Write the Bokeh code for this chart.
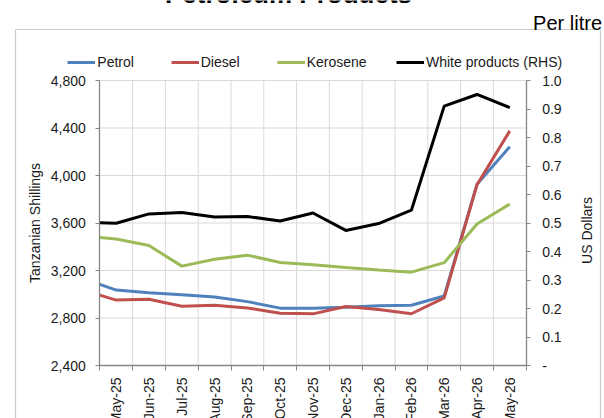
import math
from bokeh.plotting import figure
from bokeh.models import (Range1d, LinearAxis, FixedTicker, CustomJSTickFormatter,
                          Legend, LegendItem, Label, BoxAnnotation)
from bokeh.embed import file_html
from bokeh.resources import INLINE

# ---- data ----
months = ["May-25", "Jun-25", "Jul-25", "Aug-25", "Sep-25", "Oct-25", "Nov-25",
          "Dec-25", "Jan-26", "Feb-26", "Mar-26", "Apr-26", "May-26"]
# first value is the opening point at the left edge of the axis, then one per month
petrol = [3083, 3035, 3013, 2995, 2976, 2938, 2883, 2883, 2890, 2903, 2907, 2985, 3927, 4243]
diesel = [2993, 2951, 2958, 2899, 2908, 2885, 2840, 2835, 2897, 2871, 2836, 2970, 3922, 4376]
kerosene = [3478, 3466, 3410, 3237, 3295, 3329, 3268, 3249, 3225, 3205, 3186, 3266, 3592, 3760]
white_rhs = [0.501, 0.499, 0.532, 0.537, 0.521, 0.523, 0.507, 0.535, 0.474, 0.498, 0.545,
             0.910, 0.951, 0.905]
left_ticks = [2400, 2800, 3200, 3600, 4000, 4400, 4800]
right_ticks = [0.0, 0.1, 0.2, 0.3, 0.4, 0.5, 0.6, 0.7, 0.8, 0.9, 1.0]

n = len(months)
x_pos = [0.0] + [i + 0.5 for i in range(n)]
LMIN, LMAX = left_ticks[0], left_ticks[-1]
RMIN, RMAX = right_ticks[0], right_ticks[-1]

FONT = "Liberation Sans"
AXIS_C = "#868686"
TEXT_C = "#1a1a1a"
GRID_C = "#d9d9d9"
BOX_C = "#595959"

# ---- layout (pixels) ----
W, H = 604, 418
PX_L, PX_R, PX_T, PX_B = 99.3, 525.7, 80.0, 365.0   # plot area edges on the canvas
ux = n / (PX_R - PX_L)
uy = (LMAX - LMIN) / (PX_B - PX_T)
x_start, x_end = 0 - PX_L * ux, n + (W - PX_R) * ux
y_bot, y_top = LMIN - (H - PX_B) * uy, LMAX + PX_T * uy
r_scale = (RMAX - RMIN) / (LMAX - LMIN)

p = figure(width=W, height=H, output_backend="svg", toolbar_location=None,
           x_range=Range1d(x_start, x_end), y_range=Range1d(y_bot, y_top), min_border=0)
p.outline_line_color = None
p.background_fill_color = "white"
p.border_fill_color = "white"
p.extra_y_ranges = {"rhs": Range1d(RMIN + (y_bot - LMIN) * r_scale, RMIN + (y_top - LMIN) * r_scale)}
p.grid.visible = False

# outer chart box
p.add_layout(BoxAnnotation(left=15, right=600, top=H - 29, bottom=-20,
                           left_units="screen", right_units="screen", top_units="screen",
                           bottom_units="screen", fill_color=None, fill_alpha=0,
                           line_color=BOX_C, line_width=1.2, level="underlay"))

# gridlines (month boundaries and left-axis levels), limited to the plot area
vx = list(range(1, n))
p.segment(x0=vx, x1=vx, y0=[LMIN] * len(vx), y1=[LMAX] * len(vx),
          line_color=GRID_C, line_width=1)
hy = left_ticks[1:]
p.segment(x0=[0] * len(hy), x1=[n] * len(hy), y0=hy, y1=hy, line_color=GRID_C, line_width=1)

# x axis: labels centred in each month, tick marks on the boundaries
xa = p.xaxis[0]
xa.fixed_location = LMIN
xa.bounds = (0, n)
xa.ticker = FixedTicker(ticks=[i + 0.5 for i in range(n)], minor_ticks=list(range(n + 1)))
xa.formatter = CustomJSTickFormatter(args=dict(labels=months),
                                     code="const i = Math.floor(tick); return labels[i] || '';")
xa.major_tick_out = 0
xa.major_tick_in = 0
xa.minor_tick_out = 5
xa.minor_tick_in = 0
xa.minor_tick_line_color = AXIS_C
xa.major_label_orientation = math.pi / 2
xa.major_label_standoff = 7

# left axis
ya = p.yaxis[0]
ya.fixed_location = 0
ya.bounds = (LMIN, LMAX)
ya.ticker = FixedTicker(ticks=left_ticks)
ya.formatter = CustomJSTickFormatter(code="return tick.toLocaleString('en-US');")
ya.axis_label = "Tanzanian Shillings"
ya.major_tick_out = 4
ya.major_tick_in = 0
ya.minor_tick_out = 0
ya.minor_tick_in = 0
ya.major_label_standoff = 10
ya.axis_label_standoff = 4

# right axis
ra = LinearAxis(y_range_name="rhs", ticker=FixedTicker(ticks=right_ticks),
                formatter=CustomJSTickFormatter(code="return tick < 0.001 ? '-' : tick.toFixed(1);"),
                fixed_location=n, bounds=(RMIN, RMAX))
ra.major_tick_out = 4
ra.major_tick_in = 0
ra.minor_tick_out = 0
ra.minor_tick_in = 0
ra.major_label_standoff = 12
p.add_layout(ra, "right")

for ax in (xa, ya, ra):
    ax.axis_line_color = AXIS_C
    ax.axis_line_width = 1.3
    ax.major_tick_line_color = AXIS_C
    ax.major_label_text_font = FONT
    ax.major_label_text_font_size = "14px"
    ax.major_label_text_color = TEXT_C
    ax.axis_label_text_font = FONT
    ax.axis_label_text_font_size = "14px"
    ax.axis_label_text_font_style = "normal"
    ax.axis_label_text_color = TEXT_C

# right-axis title, reading bottom to top as in the original
p.add_layout(Label(x=586, y=H - 230, x_units="screen", y_units="screen", angle=math.pi / 2,
                   text="US Dollars", text_align="center", text_baseline="middle",
                   text_font=FONT, text_font_size="14px", text_color=TEXT_C))

# lines
r_pet = p.line(x_pos, petrol, line_color="#4F81BD", line_width=3)
r_die = p.line(x_pos, diesel, line_color="#C0504D", line_width=3)
r_ker = p.line(x_pos, kerosene, line_color="#9BBB59", line_width=3)
r_wht = p.line(x_pos, white_rhs, line_color="#000000", line_width=3, y_range_name="rhs")

# legend entries (one per entry to match the original spacing)
LEG_TOP = 54.3
for label, rend, gx in (("Petrol", r_pet, 67.3), ("Diesel", r_die, 170.7),
                        ("Kerosene", r_ker, 276.7), ("White products (RHS)", r_wht, 396.0)):
    lg = Legend(items=[LegendItem(label=label, renderers=[rend])],
                location=(gx, H - LEG_TOP - 16), orientation="horizontal",
                glyph_width=28, glyph_height=16, label_height=16, label_standoff=2,
                padding=0, margin=0, spacing=0,
                border_line_color=None, background_fill_alpha=0,
                label_text_font=FONT, label_text_font_size="14px", label_text_color=TEXT_C)
    p.add_layout(lg, "center")

p.add_layout(Label(x=601.5, y=H - 22.1, x_units="screen", y_units="screen",
                   text="Per litre", text_align="right", text_baseline="alphabetic",
                   text_font=FONT, text_font_size="20px", text_color="#000000"))
p.add_layout(Label(x=288, y=H + 6.5, x_units="screen", y_units="screen",
                   text="Petroleum Products", text_align="center", text_baseline="alphabetic",
                   text_font=FONT, text_font_size="26px", text_font_style="bold",
                   text_color="#000000"))

open("out.html", "w").write(file_html(p, INLINE))
